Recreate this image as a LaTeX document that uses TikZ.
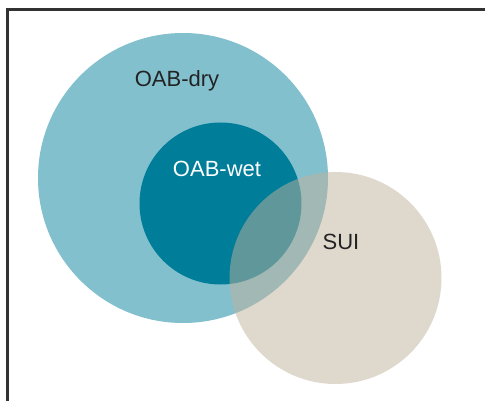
\documentclass[tikz,border=0pt]{standalone}
\usepackage{fontspec}
\setmainfont{Liberation Sans}
\definecolor{drycol}{RGB}{130,192,206}
\definecolor{wetcol}{RGB}{0,125,153}
\definecolor{suicol}{RGB}{192,178,156}
\definecolor{framecol}{RGB}{50,50,50}
\definecolor{txtcol}{RGB}{35,35,35}
\begin{document}
\begin{tikzpicture}[x=1pt,y=-1pt,
  lbl/.style={font=\fontsize{22}{26}\selectfont, inner sep=0pt, anchor=center},
  framel/.style={draw=framecol, line width=2.2pt}]
\useasboundingbox (0,0) rectangle (485,401);
\fill[white] (0,0) rectangle (485,401);
\coordinate (fb) at (7.5,401);
\coordinate (fc) at (7.5,9.5);
\coordinate (fr) at (485,9.5);
\draw[framel] (fb) -- (fc) -- (fr);
\fill[drycol] (183,178) circle (145);
\fill[wetcol] (220.5,203.5) circle (81);
\fill[suicol, fill opacity=0.5] (335.5,278) circle (106);
\node[lbl, text=txtcol] (dry) at (177,81) {OAB-dry};
\node[lbl, text=white] (wet) at (217,169) {OAB-wet};
\node[lbl, text=txtcol] (sui) at (341,242) {SUI};
\end{tikzpicture}
\end{document}
